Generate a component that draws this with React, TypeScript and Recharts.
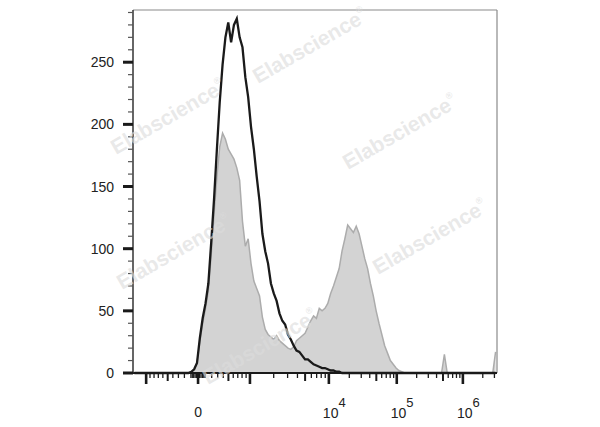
import { ComposedChart, Area, Line, XAxis, YAxis, ReferenceLine } from "recharts";

// histogram bins, 8 channels wide, 1024-channel display scale
const BIN_WIDTH = 8;

const blackCounts = [
  0, 0, 0, 0, 0, 0, 0, 0, 0, 0, 0, 0, 0, 0, 0, 0,
  0, 0, 0, 0, 1, 3, 8, 28, 44, 56, 72, 105, 140, 180, 218, 248,
  270, 282, 266, 280, 285, 270, 262, 238, 222, 198, 180, 158, 138, 112, 98, 88,
  72, 64, 58, 48, 42, 39, 31, 27, 22, 18, 17, 14, 11, 11, 9, 7,
  6, 5, 4, 4, 3, 2, 2, 1, 1, 0, 0, 0, 0, 0, 0, 0,
  0, 0, 0, 0, 0, 0, 0, 0, 0, 0, 0, 0, 0, 0, 0, 0,
  0, 0, 0, 0, 0, 0, 0, 0, 0, 0, 0, 0, 0, 0, 0, 0,
  0, 0, 0, 0, 0, 0, 0, 0, 0, 0, 0, 0, 0, 0, 0, 0,
];

const greyCounts = [
  0, 0, 0, 0, 0, 0, 0, 0, 0, 0, 0, 0, 0, 0, 0, 0,
  0, 0, 0, 0, 1, 3, 8, 25, 40, 52, 66, 95, 128, 158, 182, 193,
  188, 180, 176, 172, 165, 155, 122, 102, 108, 88, 74, 68, 62, 45, 35, 31,
  29, 27, 30, 26, 24, 22, 20, 19, 21, 26, 28, 30, 32, 37, 42, 46,
  44, 52, 50, 52, 56, 64, 70, 77, 84, 98, 108, 119, 116, 113, 118, 112,
  102, 92, 84, 72, 62, 50, 40, 31, 22, 16, 10, 7, 4, 2, 1, 0,
  0, 0, 0, 0, 0, 0, 0, 0, 0, 0, 0, 0, 0, 15, 0, 0,
  0, 0, 0, 0, 0, 0, 0, 0, 0, 0, 0, 0, 0, 0, 0, 17,
];

const yTicks = [
  0, 10, 20, 30, 40, 50, 60, 70, 80, 90, 100, 110, 120, 130, 140, 150,
  160, 170, 180, 190, 200, 210, 220, 230, 240, 250, 260, 270, 280, 290,
];
const yMax = 292;

const xMajor = [-1000, 0, 1000, 1e4, 1e5, 1e6];
const xMedium = [-500, 500, 5000, 5e4, 5e5];
const xMinor = [
  -900, -800, -700, -600, -400, -300, -200, -100, -80, -60, -40, -20,
  20, 40, 60, 80, 100, 200, 300, 400, 600, 700, 800, 900,
  2000, 3000, 4000, 6000, 7000, 8000, 9000,
  2e4, 3e4, 4e4, 6e4, 7e4, 8e4, 9e4,
  2e5, 3e5, 4e5, 6e5, 7e5, 8e5, 9e5,
  2e6, 3e6,
];
const xLabels: { v: number; base: string; exp?: string }[] = [
  { v: 0, base: "0" },
  { v: 1e4, base: "10", exp: "4" },
  { v: 1e5, base: "10", exp: "5" },
  { v: 1e6, base: "10", exp: "6" },
];

// biexponential display scale (channels)
const ZERO_CH = 183;
const LIN_W = 146;
const DECADES = [222, 191, 186];

function toChannel(v: number) {
  const a = Math.abs(v);
  const s = Math.sign(v);
  if (a <= 1000) return ZERO_CH + (s * LIN_W * Math.log10(1 + a / 1000)) / Math.log10(2);
  let off = LIN_W;
  let rest = Math.log10(a / 1000);
  for (let i = 0; rest > 0; i++) {
    const w = DECADES[Math.min(i, DECADES.length - 1)];
    const step = Math.min(rest, 1);
    off += w * step;
    rest -= step;
  }
  return ZERO_CH + s * off;
}

const data = blackCounts.map((b, i) => ({
  ch: i * BIN_WIDTH + BIN_WIDTH / 2,
  black: b,
  grey: greyCounts[i],
}));

type TickKind = "major" | "medium" | "minor";
const xTickList: { ch: number; kind: TickKind; v: number }[] = [
  ...xMajor.map((v) => ({ ch: toChannel(v), kind: "major" as TickKind, v })),
  ...xMedium.map((v) => ({ ch: toChannel(v), kind: "medium" as TickKind, v })),
  ...xMinor.map((v) => ({ ch: toChannel(v), kind: "minor" as TickKind, v })),
].sort((a, b) => a.ch - b.ch);

const FONT = "'Liberation Sans', Arial, sans-serif";

function XTick(props: any) {
  const { x, y, payload } = props;
  const t = xTickList.reduce((best, cur) =>
    Math.abs(cur.ch - payload.value) < Math.abs(best.ch - payload.value) ? cur : best
  );
  const len = t.kind === "major" ? 11 : t.kind === "medium" ? 8 : 5;
  const w = t.kind === "major" ? 2.6 : t.kind === "medium" ? 2 : 1.3;
  const label = t.kind === "major" ? xLabels.find((l) => l.v === t.v) : undefined;
  return (
    <g>
      <line x1={x} x2={x} y1={y} y2={y + len} stroke="#1a1a1a" strokeWidth={w} />
      {label && !label.exp && (
        <text x={x} y={y + 44} textAnchor="middle" fontSize={14} fontFamily={FONT} fill="#222">
          {label.base}
        </text>
      )}
      {label && label.exp && (
        <text x={x - 6} y={y + 45} textAnchor="start" fontSize={14} fontFamily={FONT} fill="#222">
          {label.base}
          <tspan dy={-11} fontSize={13}>
            {label.exp}
          </tspan>
        </text>
      )}
    </g>
  );
}

function YTick(props: any) {
  const { x, y, payload } = props;
  const major = payload.value % 50 === 0;
  return (
    <g>
      <line
        x1={x - (major ? 10 : 5)}
        x2={x}
        y1={y}
        y2={y}
        stroke={major ? "#1a1a1a" : "#555"}
        strokeWidth={major ? 3 : 1.2}
      />
      {major && (
        <text x={x - 19} y={y + 5} textAnchor="end" fontSize={14} fontFamily={FONT} fill="#222">
          {payload.value}
        </text>
      )}
    </g>
  );
}

const watermarks = [
  { x: 258, y: 84 },
  { x: 116, y: 155 },
  { x: 348, y: 170 },
  { x: 378, y: 275 },
  { x: 122, y: 290 },
  { x: 208, y: 385 },
];

export default function App() {
  return (
    <div style={{ position: "absolute", left: 0, top: 0, width: 600, height: 427, background: "#fff" }}>
      <ComposedChart
        width={600}
        height={427}
        data={data}
        margin={{ top: 10, right: 103, bottom: 0, left: 0 }}
      >
        <XAxis
          dataKey="ch"
          type="number"
          domain={[0, 1024]}
          ticks={xTickList.map((t) => t.ch)}
          interval={0}
          height={54}
          tickSize={0}
          tickMargin={0}
          tickLine={false}
          tick={<XTick />}
          axisLine={{ stroke: "#1a1a1a", strokeWidth: 2 }}
        />
        <YAxis
          type="number"
          domain={[0, yMax]}
          ticks={yTicks}
          interval={0}
          width={133}
          tickSize={0}
          tickMargin={0}
          tickLine={false}
          tick={<YTick />}
          axisLine={{ stroke: "#333", strokeWidth: 1.5 }}
        />
        <ReferenceLine y={yMax} stroke="#8a8a8a" strokeWidth={1.2} />
        <ReferenceLine x={1024} stroke="#8a8a8a" strokeWidth={1.2} />
        <Area
          dataKey="grey"
          type="linear"
          stroke="#acacac"
          strokeWidth={1.5}
          fill="#d3d3d3"
          fillOpacity={1}
          dot={false}
          activeDot={false}
          isAnimationActive={false}
        />
        <Line
          dataKey="black"
          type="linear"
          stroke="#1a1a1a"
          strokeWidth={2.3}
          dot={false}
          activeDot={false}
          isAnimationActive={false}
        />
      </ComposedChart>
      <svg
        width={600}
        height={427}
        style={{ position: "absolute", left: 0, top: 0, pointerEvents: "none" }}
      >
        {watermarks.map((w, i) => (
          <text
            key={i}
            x={w.x}
            y={w.y}
            transform={`rotate(-30 ${w.x} ${w.y})`}
            fontSize={21}
            fontWeight="bold"
            fontFamily={FONT}
            fill="#dcdcdc"
            fillOpacity={0.65}
          >
            Elabscience
            <tspan fontSize={9} dy={-11}>
              ®
            </tspan>
          </text>
        ))}
      </svg>
    </div>
  );
}
